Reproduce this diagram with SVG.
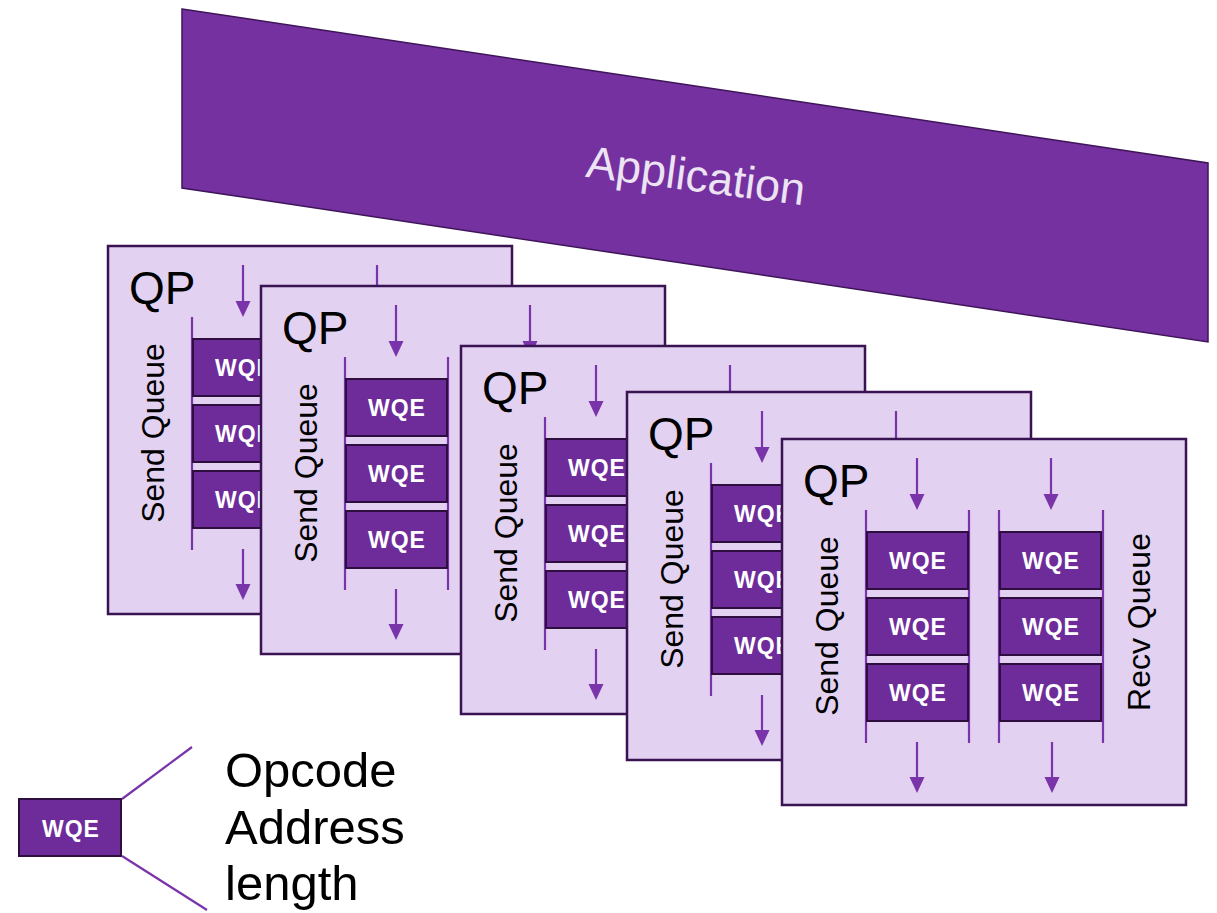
<svg xmlns="http://www.w3.org/2000/svg" width="1217" height="913" viewBox="0 0 1217 913">
<style>
.card{fill:#e2d1f1;stroke:#3a1352;stroke-width:2.5}
.qp{font-family:"Liberation Sans",Arial,sans-serif;font-size:46px;fill:#000}
.sq{font-family:"Liberation Sans",Arial,sans-serif;font-size:32px;fill:#000;text-anchor:middle}
.rail{stroke:#7a34a9;stroke-width:2.2}
.box{fill:#6e2c9b;stroke:#2d0e3f;stroke-width:2}
.wqe{font-family:"Liberation Sans",Arial,sans-serif;font-size:23px;font-weight:bold;fill:#fff;text-anchor:middle;letter-spacing:1px}
.arr{stroke:#7a34a9;stroke-width:2.2;marker-end:url(#ah)}
.leg{font-family:"Liberation Sans",Arial,sans-serif;font-size:49px;fill:#000}
.lline{stroke:#7a34a9;stroke-width:2.2;fill:none}
</style>
<defs>
<marker id="ah" markerUnits="userSpaceOnUse" markerWidth="16" markerHeight="16" refX="12" refY="8" orient="auto" viewBox="0 0 16 16"><path d="M0,0.5 L16,8 L0,15.5 z" fill="#7a34a9"/></marker>
</defs>
<rect width="1217" height="913" fill="#fff"/>
<g id="application">
<polygon points="182,9 1208,163 1208,342 182,188" fill="#7531a0" stroke="#3f1559" stroke-width="1.5"/>
<text transform="translate(694,191) rotate(7.5)" font-family="'Liberation Sans',Arial,sans-serif" font-size="45" fill="#ece3f3" text-anchor="middle">Application</text>
</g>
<g id="qp1" transform="translate(108,246)">
<rect class="card" x="0" y="0" width="404" height="368"/>
<text class="qp" x="21" y="58">QP</text>
<text class="sq" transform="translate(56,187) rotate(-90)">Send Queue</text>
<line class="rail" x1="84" y1="71" x2="84" y2="304"/><line class="rail" x1="187" y1="71" x2="187" y2="304"/>
<rect class="box" x="85" y="93" width="101" height="57"/><text class="wqe" x="136" y="130">WQE</text>
<rect class="box" x="85" y="159" width="101" height="57"/><text class="wqe" x="136" y="196">WQE</text>
<rect class="box" x="85" y="225" width="101" height="57"/><text class="wqe" x="136" y="262">WQE</text>
<line class="arr" x1="135" y1="19" x2="135" y2="67"/>
<line class="arr" x1="135" y1="303" x2="135" y2="350"/>
<line class="arr" x1="269" y1="19" x2="269" y2="67"/>
</g>
<g id="qp2" transform="translate(261,286)">
<rect class="card" x="0" y="0" width="404" height="368"/>
<text class="qp" x="21" y="58">QP</text>
<text class="sq" transform="translate(56,187) rotate(-90)">Send Queue</text>
<line class="rail" x1="84" y1="71" x2="84" y2="304"/><line class="rail" x1="187" y1="71" x2="187" y2="304"/>
<rect class="box" x="85" y="93" width="101" height="57"/><text class="wqe" x="136" y="130">WQE</text>
<rect class="box" x="85" y="159" width="101" height="57"/><text class="wqe" x="136" y="196">WQE</text>
<rect class="box" x="85" y="225" width="101" height="57"/><text class="wqe" x="136" y="262">WQE</text>
<line class="arr" x1="135" y1="19" x2="135" y2="67"/>
<line class="arr" x1="135" y1="303" x2="135" y2="350"/>
<line class="arr" x1="269" y1="19" x2="269" y2="67"/>
</g>
<g id="qp3" transform="translate(461,346)">
<rect class="card" x="0" y="0" width="404" height="368"/>
<text class="qp" x="21" y="58">QP</text>
<text class="sq" transform="translate(56,187) rotate(-90)">Send Queue</text>
<line class="rail" x1="84" y1="71" x2="84" y2="304"/><line class="rail" x1="187" y1="71" x2="187" y2="304"/>
<rect class="box" x="85" y="93" width="101" height="57"/><text class="wqe" x="136" y="130">WQE</text>
<rect class="box" x="85" y="159" width="101" height="57"/><text class="wqe" x="136" y="196">WQE</text>
<rect class="box" x="85" y="225" width="101" height="57"/><text class="wqe" x="136" y="262">WQE</text>
<line class="arr" x1="135" y1="19" x2="135" y2="67"/>
<line class="arr" x1="135" y1="303" x2="135" y2="350"/>
<line class="arr" x1="269" y1="19" x2="269" y2="67"/>
</g>
<g id="qp4" transform="translate(627,392)">
<rect class="card" x="0" y="0" width="404" height="368"/>
<text class="qp" x="21" y="58">QP</text>
<text class="sq" transform="translate(56,187) rotate(-90)">Send Queue</text>
<line class="rail" x1="84" y1="71" x2="84" y2="304"/><line class="rail" x1="187" y1="71" x2="187" y2="304"/>
<rect class="box" x="85" y="93" width="101" height="57"/><text class="wqe" x="136" y="130">WQE</text>
<rect class="box" x="85" y="159" width="101" height="57"/><text class="wqe" x="136" y="196">WQE</text>
<rect class="box" x="85" y="225" width="101" height="57"/><text class="wqe" x="136" y="262">WQE</text>
<line class="arr" x1="135" y1="19" x2="135" y2="67"/>
<line class="arr" x1="135" y1="303" x2="135" y2="350"/>
<line class="arr" x1="269" y1="19" x2="269" y2="67"/>
</g>
<g id="qp5" transform="translate(782,439)">
<rect class="card" x="0" y="0" width="404" height="366"/>
<text class="qp" x="21" y="58">QP</text>
<text class="sq" transform="translate(56,187) rotate(-90)">Send Queue</text>
<line class="rail" x1="84" y1="71" x2="84" y2="304"/><line class="rail" x1="187" y1="71" x2="187" y2="304"/>
<rect class="box" x="85" y="93" width="101" height="57"/><text class="wqe" x="136" y="130">WQE</text>
<rect class="box" x="85" y="159" width="101" height="57"/><text class="wqe" x="136" y="196">WQE</text>
<rect class="box" x="85" y="225" width="101" height="57"/><text class="wqe" x="136" y="262">WQE</text>
<line class="arr" x1="135" y1="19" x2="135" y2="67"/>
<line class="arr" x1="135" y1="303" x2="135" y2="350"/>
<line class="rail" x1="217" y1="71" x2="217" y2="304"/><line class="rail" x1="321" y1="71" x2="321" y2="304"/>
<rect class="box" x="218" y="93" width="101" height="57"/><text class="wqe" x="269" y="130">WQE</text>
<rect class="box" x="218" y="159" width="101" height="57"/><text class="wqe" x="269" y="196">WQE</text>
<rect class="box" x="218" y="225" width="101" height="57"/><text class="wqe" x="269" y="262">WQE</text>
<line class="arr" x1="269" y1="19" x2="269" y2="67"/>
<line class="arr" x1="270" y1="303" x2="270" y2="350"/>
<text class="sq" transform="translate(368,183) rotate(-90)">Recv Queue</text>
</g>
<g id="legend-wqe">
<rect class="box" x="19" y="799" width="102" height="57"/>
<text class="wqe" x="71" y="837">WQE</text>
</g>
<g id="legend-fields">
<text class="leg" x="225" y="787">Opcode</text>
<text class="leg" x="225" y="844">Address</text>
<text class="leg" x="225" y="900">length</text>
</g>
<g id="connectors">
<line class="lline" x1="122" y1="799" x2="192" y2="747"/>
<line class="lline" x1="122" y1="856" x2="207" y2="910"/>
</g>
</svg>
